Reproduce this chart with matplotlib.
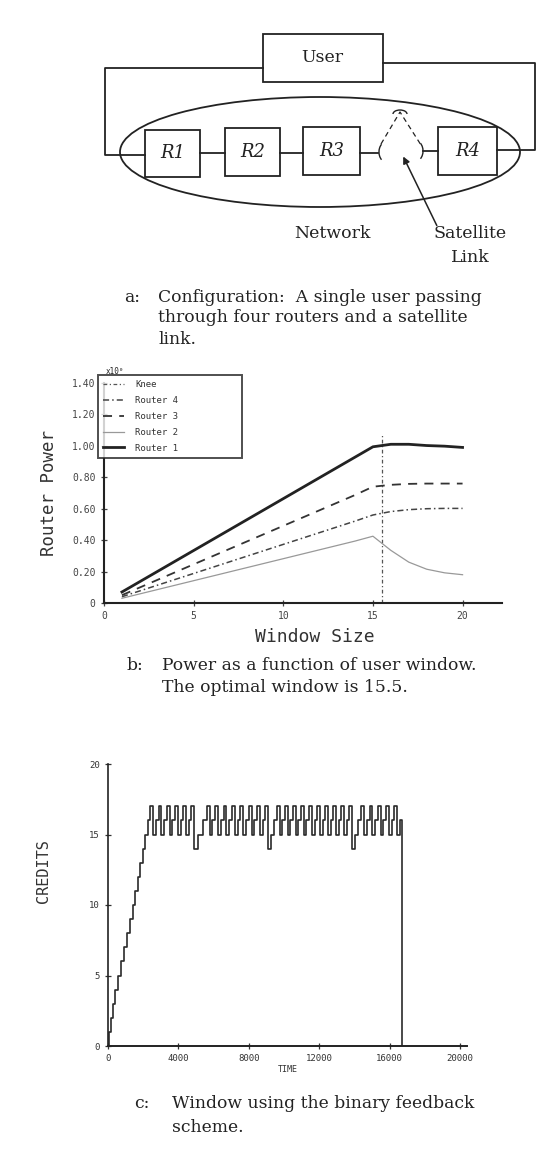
import numpy as np
import matplotlib.pyplot as plt
from matplotlib.patches import Rectangle, Ellipse, Arc
from matplotlib.ticker import FuncFormatter

# --- data: power vs window (panel b) ---
windows = [1, 2, 3, 4, 5, 6, 7, 8, 9, 10, 11, 12, 13, 14, 15, 16, 17, 18, 19, 20]
router1 = [0.070, 0.136, 0.202, 0.268, 0.334, 0.400, 0.466, 0.532, 0.598, 0.664,
           0.730, 0.796, 0.862, 0.928, 0.994, 1.010, 1.010, 1.002, 0.998, 0.990]
router2 = [0.030, 0.058, 0.086, 0.114, 0.142, 0.170, 0.198, 0.226, 0.254, 0.282,
           0.310, 0.338, 0.366, 0.394, 0.425, 0.335, 0.260, 0.215, 0.192, 0.180]
router3 = [0.050, 0.099, 0.148, 0.197, 0.246, 0.295, 0.344, 0.393, 0.442, 0.491,
           0.540, 0.589, 0.638, 0.687, 0.740, 0.752, 0.758, 0.760, 0.760, 0.760]
router4 = [0.040, 0.077, 0.114, 0.151, 0.188, 0.225, 0.262, 0.299, 0.336, 0.373,
           0.410, 0.447, 0.484, 0.521, 0.560, 0.582, 0.594, 0.600, 0.602, 0.602]
knee_window = 15.5
knee_top = 1.07
power_yticks = [0, 0.2, 0.4, 0.6, 0.8, 1.0, 1.2, 1.4]
power_xticks = [0, 5, 10, 15, 20]

# --- data: credits vs time (panel c) ---
ramp_t = [0, 60, 170, 290, 400, 560, 750, 900, 1060, 1230, 1400,
          1540, 1690, 1830, 1970, 2110, 2250]
ramp_v = [0, 1, 2, 3, 4, 5, 6, 7, 8, 9, 10, 11, 12, 13, 14, 15, 16]
peak_t = [2400, 2870, 3340, 3810, 4280, 4740,
          5620, 6095, 6570, 7045, 7520, 7995, 8470, 8945,
          9600, 10057, 10514, 10971, 11428, 11885, 12342, 12799, 13256, 13713,
          14400, 14870, 15340, 15810, 16280]
trough_v = [15, 15, 15, 15, 15, 14,
            15, 15, 15, 15, 15, 15, 15, 14,
            15, 15, 15, 15, 15, 15, 15, 15, 15, 14,
            15, 15, 15, 15, 15]
peak_v = 17
hold_top = 160
end_t = 16700
credit_xticks = [0, 4000, 8000, 12000, 16000, 20000]
credit_yticks = [0, 5, 10, 15, 20]

ink = '#222222'
mono = 'DejaVu Sans Mono'
serif = 'DejaVu Serif'

fig = plt.figure(figsize=(5.42, 11.53), dpi=100)

# canvas in pixel coordinates for the diagram and captions
cv = fig.add_axes([0, 0, 1, 1])
cv.set_xlim(0, 542)
cv.set_ylim(1153, 0)
cv.axis('off')

# diagram (panel a)
lw_d = 1.3
cv.add_patch(Rectangle((263, 34), 120, 48, fill=False, ec=ink, lw=lw_d))
cv.text(322, 57, 'User', ha='center', va='center', family=serif,
        fontsize=12.5, color=ink)
cv.plot([263, 105, 105, 145], [68, 68, 155, 155], color=ink, lw=lw_d)
cv.plot([383, 535, 535, 497], [63, 63, 150, 150], color=ink, lw=lw_d)
cv.add_patch(Ellipse((320, 152), 400, 110, fill=False, ec=ink, lw=lw_d))
boxes = [(145, 130, 55, 47, 'R1'), (225, 128, 55, 48, 'R2'),
         (303, 127, 57, 48, 'R3'), (438, 127, 59, 48, 'R4')]
for bx, by, bw, bh, lab in boxes:
    cv.add_patch(Rectangle((bx, by), bw, bh, fill=True, fc='white',
                           ec=ink, lw=lw_d))
    cv.text(bx + bw / 2, by + bh / 2, lab, ha='center', va='center',
            family=serif, style='italic', fontsize=13, color=ink)
cv.plot([200, 225], [153, 153], color=ink, lw=lw_d)
cv.plot([280, 303], [153, 153], color=ink, lw=lw_d)
cv.plot([360, 378], [153, 153], color=ink, lw=lw_d)
cv.plot([423, 438], [151, 151], color=ink, lw=lw_d)
cv.add_patch(Arc((386, 152), 14, 20, theta1=120, theta2=240, color=ink, lw=1.0))
cv.add_patch(Arc((416, 151), 14, 20, theta1=-60, theta2=60, color=ink, lw=1.0))
cv.add_patch(Arc((400, 114), 14, 8, theta1=180, theta2=360, color=ink, lw=1.0))
cv.plot([381, 400, 421], [144, 112, 145], color=ink, lw=0.9, ls=(0, (4, 3)))
cv.annotate('', xy=(402, 154), xytext=(438, 228),
            arrowprops=dict(arrowstyle='-|>', color=ink, lw=1.1,
                            mutation_scale=10))
cv.text(332, 234, 'Network', ha='center', va='center', family=serif,
        fontsize=12.5, color=ink)
cv.text(470, 234, 'Satellite', ha='center', va='center', family=serif,
        fontsize=12.5, color=ink)
cv.text(470, 257, 'Link', ha='center', va='center', family=serif,
        fontsize=12.5, color=ink)

# captions
capfont = dict(family=serif, fontsize=12.3, color=ink, va='center')
cv.text(124, 298, 'a:', **capfont)
cv.text(158, 298, 'Configuration:  A single user passing', **capfont)
cv.text(158, 318, 'through four routers and a satellite', **capfont)
cv.text(158, 339, 'link.', **capfont)
cv.text(126, 665, 'b:', **capfont)
cv.text(162, 665, 'Power as a function of user window.', **capfont)
cv.text(162, 688, 'The optimal window is 15.5.', **capfont)
cv.text(134, 1103, 'c:', **capfont)
cv.text(172, 1103, 'Window using the binary feedback', **capfont)
cv.text(172, 1127, 'scheme.', **capfont)

# panel b: router power
ax = fig.add_axes([104 / 542, 1 - 603 / 1153, 398 / 542, 220 / 1153])
ax.plot([knee_window, knee_window], [0, knee_top], color='#555555', lw=0.9,
        ls=(0, (3, 2, 1, 2)), label='Knee')
ax.plot(windows, router4, color='#444444', lw=1.1, ls=(0, (4, 2, 1, 2)),
        label='Router 4')
ax.plot(windows, router3, color='#333333', lw=1.3, ls=(0, (5, 4)),
        label='Router 3')
ax.plot(windows, router2, color='#999999', lw=0.9, label='Router 2')
ax.plot(windows, router1, color=ink, lw=2.0, label='Router 1')
ax.set_xlim(0, 22.2)
ax.set_ylim(0, 1.4)
ax.set_xticks(power_xticks)
ax.set_yticks(power_yticks)
ax.yaxis.set_major_formatter(FuncFormatter(lambda v, p: '0' if v == 0 else '%.2f' % v))
ax.tick_params(direction='inout', length=5, width=0.9, labelsize=7,
               colors='#444444')
for lab in ax.get_xticklabels() + ax.get_yticklabels():
    lab.set_family(mono)
ax.spines['top'].set_visible(False)
ax.spines['right'].set_visible(False)
ax.spines['left'].set_linewidth(1.5)
ax.spines['bottom'].set_linewidth(1.5)
ax.spines['left'].set_color(ink)
ax.spines['bottom'].set_color(ink)
ax.set_ylabel('Router Power', family=mono, fontsize=12.5, color='#333333')
ax.yaxis.set_label_coords(-0.115, 0.5)
ax.set_xlabel('Window Size', family=mono, fontsize=13, color='#333333')
ax.xaxis.set_label_coords(0.53, -0.115)
ax.text(0.005, 1.03, 'x10\u2070', transform=ax.transAxes, family=mono,
        fontsize=5.5, color=ink, va='bottom')
leg = ax.legend(loc='upper left', bbox_to_anchor=(-0.015, 1.036, 0.362, 0.0),
                mode='expand', borderaxespad=0, fancybox=False,
                prop=dict(family=mono, size=6.5), handlelength=2.3,
                labelspacing=0.75, borderpad=0.6, handletextpad=1.2,
                frameon=True)
leg.get_frame().set_edgecolor(ink)
leg.get_frame().set_linewidth(1.4)
for t in leg.get_texts():
    t.set_color('#333333')

# panel c: credits vs time
t_pts = list(ramp_t)
v_pts = list(ramp_v)
for i, p in enumerate(peak_t):
    t_pts.append(p)
    v_pts.append(peak_v)
    drop = p + hold_top
    nxt = peak_t[i + 1] if i + 1 < len(peak_t) else end_t
    tr = trough_v[i]
    n = peak_v - tr
    t_pts.append(drop)
    v_pts.append(tr)
    for j in range(1, n):
        t_pts.append(drop + j * (nxt - drop) / n)
        v_pts.append(tr + j)
t_pts.append(end_t)
v_pts.append(0)

bx = fig.add_axes([108 / 542, 1 - 1046 / 1153, 359 / 542, 282 / 1153])
bx.plot(t_pts, v_pts, drawstyle='steps-post', color='#2a2a2a', lw=1.2)
bx.set_xlim(0, 20400)
bx.set_ylim(0, 20)
bx.set_xticks(credit_xticks)
bx.set_yticks(credit_yticks)
bx.tick_params(direction='inout', length=5, width=0.9, labelsize=6.5,
               colors='#333333')
for lab in bx.get_xticklabels() + bx.get_yticklabels():
    lab.set_family(mono)
bx.spines['top'].set_visible(False)
bx.spines['right'].set_visible(False)
bx.spines['left'].set_color(ink)
bx.spines['bottom'].set_color(ink)
bx.spines['left'].set_linewidth(1.2)
bx.spines['bottom'].set_linewidth(1.4)
bx.set_ylabel('CREDITS', family=mono, fontsize=11, color='#333333')
bx.yaxis.set_label_coords(-0.16, 0.62)
bx.set_xlabel('TIME', family=mono, fontsize=6, color='#333333', labelpad=1)

fig.savefig('out.png', dpi=100)
plt.close(fig)
